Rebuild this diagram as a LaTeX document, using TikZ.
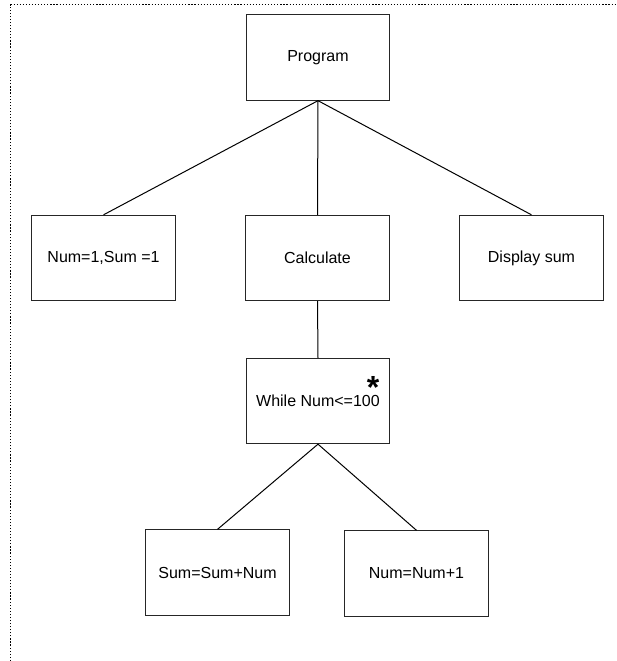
\documentclass[tikz,border=0pt]{standalone}
\usepackage{fontspec}
\setmainfont{Liberation Sans}
\begin{document}
\begin{tikzpicture}[x=0.75pt,y=-0.75pt,
  block/.style={draw=black!85, line width=0.75pt, rectangle, inner sep=0pt,
    minimum width=107.5pt, minimum height=64pt,
    font=\fontsize{12}{14}\selectfont},
  link/.style={draw=black, line width=0.75pt},
  frame/.style={draw=black, line width=0.75pt, dash pattern=on 0.9pt off 1.4pt}]
\useasboundingbox (0,0) rectangle (617,661);
% dotted page frame, left and top edges
\draw[frame] (10.7,661) -- (10.7,4.5) -- (617,4.5);
% tree of blocks
\node[block] (prog) at (318,57.5) {Program};
\node[block] (init) at (103.5,258) {Num=1,Sum =1};
\node[block] (calc) at (317.5,258) {Calculate};
\node[block] (disp) at (531.5,258) {Display sum};
\node[block] (loop) at (318,401) {While Num<=100};
\node[block] (acc) at (217.5,572.5) {Sum=Sum+Num};
\node[block] (inc) at (416.5,573.5) {Num=Num+1};
% iteration marker
\node[font=\bfseries\fontsize{24}{24}\selectfont, inner sep=0pt, anchor=base] (star) at (373,398) {*};
% connectors
\draw[link] (prog.south) -- (init.north);
\draw[link] (prog.south) -- (calc.north);
\draw[link] (prog.south) -- (disp.north);
\draw[link] (calc.south) -- (loop.north);
\draw[link] (loop.south) -- (acc.north);
\draw[link] (loop.south) -- (inc.north);
\end{tikzpicture}
\end{document}
